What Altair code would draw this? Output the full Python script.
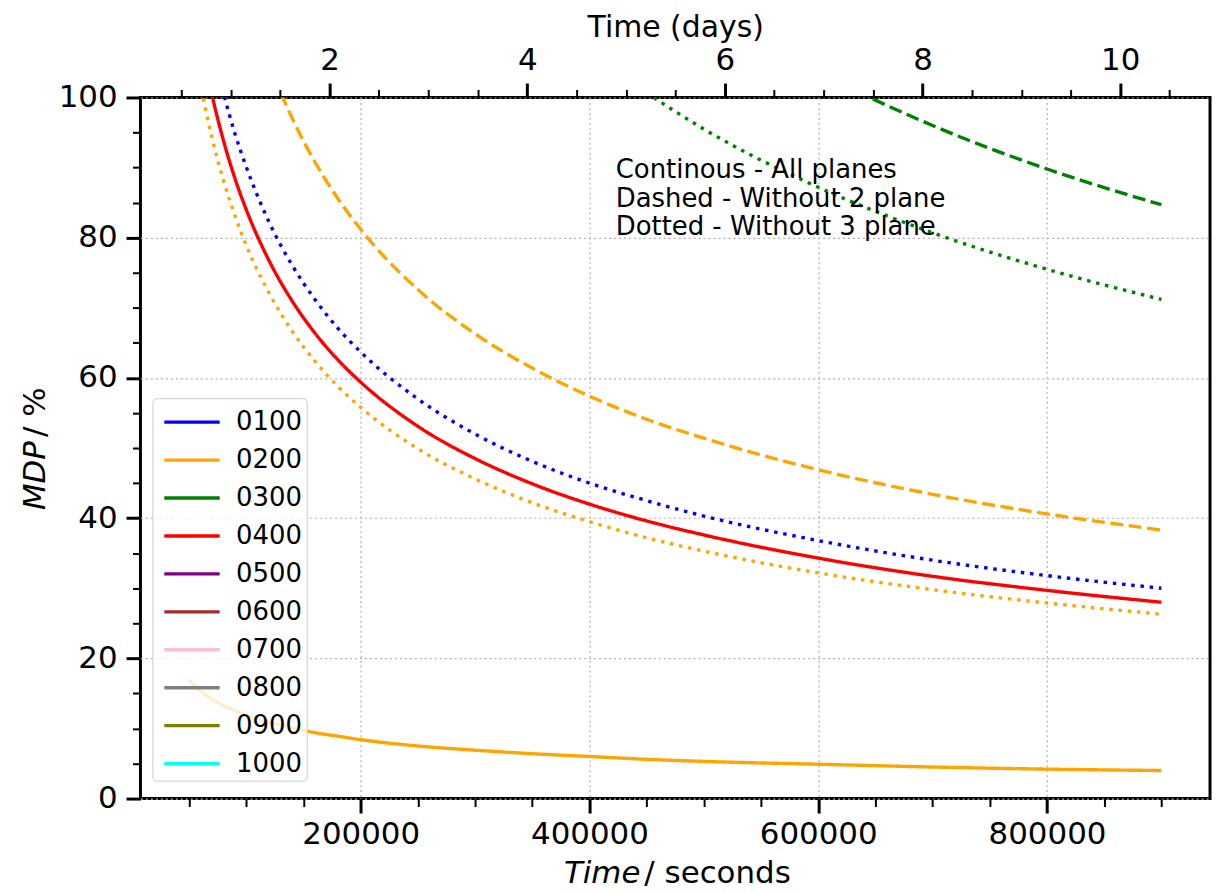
import altair as alt
import pandas as pd

# ---- data ----
times = [50000, 60000, 70000, 80000, 90000, 100000, 120000, 140000, 160000, 180000,
         200000, 250000, 300000, 350000, 400000, 450000, 500000, 600000, 700000, 800000, 900000]

mdp_0100_dotted = [127.4, 116.3, 107.6, 100.7, 94.9, 90.1, 82.2, 76.1, 71.2, 67.1,
                   63.7, 57.0, 52.0, 48.1, 45.0, 42.5, 40.3, 36.8, 34.0, 31.8, 30.0]
mdp_0200_solid = [16.9, 15.4, 14.2, 13.3, 12.6, 11.9, 10.9, 10.1, 9.4, 8.9,
                  8.4, 7.5, 6.9, 6.4, 6.0, 5.6, 5.3, 4.9, 4.5, 4.2, 4.0]
mdp_0200_dashed = [162.4, 148.3, 137.3, 128.4, 121.1, 114.9, 104.8, 97.1, 90.8, 85.6,
                   81.2, 72.6, 66.3, 61.4, 57.4, 54.1, 51.4, 46.9, 43.4, 40.6, 38.3]
mdp_0200_dotted = [111.6, 101.9, 94.3, 88.2, 83.2, 78.9, 72.1, 66.7, 62.4, 58.8,
                   55.8, 49.9, 45.6, 42.2, 39.5, 37.2, 35.3, 32.2, 29.8, 27.9, 26.3]
mdp_0300_dashed = [359.2, 327.9, 303.5, 283.9, 267.7, 254.0, 231.8, 214.6, 200.8, 189.3,
                   179.6, 160.6, 146.6, 135.7, 127.0, 119.7, 113.6, 103.7, 96.0, 89.8, 84.7]
mdp_0300_dotted = [302.0, 275.6, 255.2, 238.7, 225.1, 213.5, 194.9, 180.5, 168.8, 159.1,
                   151.0, 135.0, 123.3, 114.1, 106.8, 100.7, 95.5, 87.2, 80.7, 75.5, 71.2]
mdp_0400_solid = [118.8, 108.4, 100.4, 93.9, 88.5, 84.0, 76.7, 71.0, 66.4, 62.6,
                  59.4, 53.1, 48.5, 44.9, 42.0, 39.6, 37.6, 34.3, 31.7, 29.7, 28.0]

legend_labels = ["0100", "0200", "0300", "0400", "0500", "0600", "0700", "0800", "0900", "1000"]
legend_colors = ["blue", "orange", "green", "red", "purple", "brown", "pink", "gray", "olive", "cyan"]

styles = ["solid", "dashed", "dotted"]
dash_patterns = [[1, 0], [13, 5.6], [3.5, 5.8]]

x_major = [200000, 400000, 600000, 800000]
x_minor = [50000, 100000, 150000, 250000, 300000, 350000, 450000, 500000, 550000,
           650000, 700000, 750000, 850000, 900000]
day_major = [2, 4, 6, 8, 10]
day_minor = [0.5, 1, 1.5, 2.5, 3, 3.5, 4.5, 5, 5.5, 6.5, 7, 7.5, 8.5, 9, 9.5, 10.5]
y_major = [0, 20, 40, 60, 80, 100]
y_minor = [5, 10, 15, 25, 30, 35, 45, 50, 55, 65, 70, 75, 85, 90, 95]

annotation_lines = ["Continous - All planes", "Dashed - Without 2 plane", "Dotted - Without 3 plane"]
x_title_parts = ["Time", "/ seconds"]
y_title_parts = ["MDP", "/ %"]
top_title = "Time (days)"

x_domain = [7500, 942500]
day_domain = [7500 / 86400, 942500 / 86400]
y_domain = [0, 100]

series = [
    ("0100", "dotted", mdp_0100_dotted),
    ("0200", "solid", mdp_0200_solid),
    ("0200", "dashed", mdp_0200_dashed),
    ("0200", "dotted", mdp_0200_dotted),
    ("0300", "dashed", mdp_0300_dashed),
    ("0300", "dotted", mdp_0300_dotted),
    ("0400", "solid", mdp_0400_solid),
]
rows = []
for lab, sty, vals in series:
    for t, v in zip(times, vals):
        rows.append({"t": t, "v": v, "series": lab, "style": sty, "key": lab + sty})
df = pd.DataFrame(rows)

FONT = "DejaVu Sans"
FS = 31

xs = alt.Scale(domain=x_domain, nice=False, zero=False)
ys = alt.Scale(domain=y_domain, nice=False, zero=False)
ds = alt.Scale(domain=day_domain, nice=False, zero=False)

curves = alt.Chart(df).mark_line(strokeWidth=3.4, clip=True, interpolate="monotone").encode(
    x=alt.X("t:Q", scale=xs, axis=alt.Axis(values=x_major, format="d", tickSize=14.5, tickWidth=3,
                                           labelFontSize=FS, labelPadding=7, grid=True,
                                           gridDash=[2, 3], gridColor="#b0b0b0", gridWidth=1.2,
                                           domain=False, title=None, orient="bottom")),
    y=alt.Y("v:Q", scale=ys, axis=alt.Axis(values=y_major, format="d", tickSize=14.5, tickWidth=3,
                                           labelFontSize=FS, labelPadding=9, grid=True,
                                           gridDash=[2, 3], gridColor="#b0b0b0", gridWidth=1.2,
                                           domain=False, title=None, orient="left")),
    color=alt.Color("series:N", scale=alt.Scale(domain=legend_labels, range=legend_colors),
                    legend=alt.Legend(orient="none", legendX=12, legendY=302, title=None,
                                      fillColor="rgba(255,255,255,0.8)", strokeColor="#cccccc",
                                      cornerRadius=4, padding=4, symbolType="M-0.67,0H2.42",
                                      symbolSize=1296, symbolStrokeWidth=3.4, labelFontSize=26,
                                      labelOffset=40, rowPadding=5.1, labelFont=FONT,
                                      labelExpr="datum.label + '\u00a0'")),
    strokeDash=alt.StrokeDash("style:N", scale=alt.Scale(domain=styles, range=dash_patterns), legend=None),
    detail="key:N",
)

minor_ticks = alt.Chart(df).mark_point(opacity=0).encode(
    x=alt.X("t:Q", scale=xs, axis=alt.Axis(values=x_minor, tickSize=8, tickWidth=2, labels=False,
                                           grid=False, domain=False, title=None, orient="bottom")),
    y=alt.Y("v:Q", scale=ys, axis=alt.Axis(values=y_minor, tickSize=8, tickWidth=2, labels=False,
                                           grid=False, domain=False, title=None, orient="left")),
)

top_major = alt.Chart(df).transform_calculate(days="datum.t / 86400").mark_point(opacity=0).encode(
    x=alt.X("days:Q", scale=ds, axis=alt.Axis(values=day_major, format="d", tickSize=14.5, tickWidth=3,
                                              labelFontSize=FS, labelPadding=7, grid=False, domain=False,
                                              title=top_title, titleFontSize=30, titleFontWeight="normal",
                                              titlePadding=2, orient="top")),
)

top_minor = alt.Chart(df).transform_calculate(days="datum.t / 86400").mark_point(opacity=0).encode(
    x=alt.X("days:Q", scale=ds, axis=alt.Axis(values=day_minor, tickSize=8, tickWidth=2, labels=False,
                                              grid=False, domain=False, title=None, orient="top")),
)

annot_df = pd.DataFrame({"t": [423000], "v": [88.45], "txt": ["\n".join(annotation_lines)]})
annot = alt.Chart(annot_df).mark_text(align="left", baseline="alphabetic", fontSize=26, font=FONT,
                                      lineBreak="\n", lineHeight=28.5, color="black").encode(
    x=alt.X("t:Q", scale=xs, axis=None),
    y=alt.Y("v:Q", scale=ys, axis=None),
    text="txt:N",
)

xt1 = alt.Chart(pd.DataFrame({"txt": [x_title_parts[0]]})).mark_text(
    align="right", baseline="alphabetic", fontSize=FS, font=FONT, fontStyle="italic", color="black"
).encode(x=alt.value(502), y=alt.value(789), text="txt:N")
xt2 = alt.Chart(pd.DataFrame({"txt": [x_title_parts[1]]})).mark_text(
    align="left", baseline="alphabetic", fontSize=FS, font=FONT, color="black"
).encode(x=alt.value(506), y=alt.value(789), text="txt:N")

yt1 = alt.Chart(pd.DataFrame({"txt": [y_title_parts[0]]})).mark_text(
    align="right", baseline="alphabetic", fontSize=FS, font=FONT, fontStyle="italic", color="black", angle=270
).encode(x=alt.value(-96), y=alt.value(345), text="txt:N")
yt2 = alt.Chart(pd.DataFrame({"txt": [y_title_parts[1]]})).mark_text(
    align="left", baseline="alphabetic", fontSize=FS, font=FONT, color="black", angle=270
).encode(x=alt.value(-96), y=alt.value(341), text="txt:N")

chart = alt.layer(curves, minor_ticks, top_major, top_minor, annot, xt1, xt2, yt1, yt2).resolve_scale(
    x="independent", y="independent"
).properties(
    width=1074, height=704,
    autosize=alt.AutoSizeParams(type="none"),
    padding={"left": 133, "top": 88, "right": 4, "bottom": 100},
).configure(font=FONT).configure_view(
    stroke="black", strokeWidth=3
).configure_axis(
    labelColor="black", tickColor="black", titleColor="black", labelFont=FONT, titleFont=FONT
)

chart.save("out.html", embed_options={"renderer": "svg", "actions": False})
